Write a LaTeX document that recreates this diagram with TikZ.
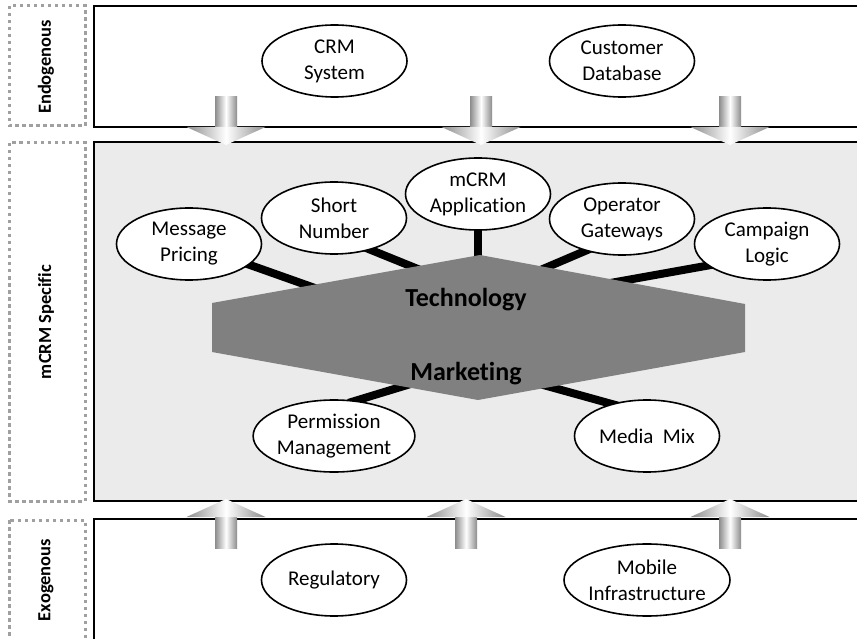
\documentclass[tikz,border=0pt]{standalone}
\usepackage{fontspec}
\setmainfont{Carlito}[Ligatures=NoCommon]
\usetikzlibrary{shapes.geometric,calc}
\definecolor{midfill}{RGB}{235,235,235}
\definecolor{hexfill}{RGB}{128,128,128}
\definecolor{dotgray}{RGB}{160,160,160}
\definecolor{arrgray}{RGB}{140,140,140}
\pgfdeclarelayer{back}
\pgfdeclarelayer{mid}
\pgfsetlayers{back,mid,main}
\tikzset{
  oval/.style={ellipse, draw=black, line width=1.6pt, fill=white, minimum width=145pt, minimum height=72pt, inner sep=0pt, align=center, font=\fontsize{21}{26}\selectfont},
  spoke/.style={line width=8pt, black},
  mainbox/.style={draw=black, line width=2pt},
  sidebox/.style={draw=dotgray, line width=3pt, dash pattern=on 3.5pt off 3.5pt},
  sidelabel/.style={rotate=90, font=\fontsize{18.5}{22}\selectfont\bfseries},
  hexlabel/.style={anchor=base, font=\fontsize{26}{31}\selectfont\bfseries},
  shaftshade/.style={left color=arrgray, right color=arrgray, middle color=white},
  headshade/.style={left color=arrgray, right color=arrgray, middle color=white}
}
\begin{document}
\begin{tikzpicture}[x=1pt,y=-1pt]
\useasboundingbox (0,0) rectangle (857,639);
\clip (0,0) rectangle (857,639);
\begin{pgfonlayer}{back}
% main boxes
\draw[mainbox, fill=white] (94,6) rectangle (880,127);
\draw[mainbox, fill=midfill] (94,142) rectangle (880,501);
\draw[mainbox, fill=white] (94,519) rectangle (880,670);
% side boxes
\draw[sidebox] (9,6) rectangle (85,126);
\draw[sidebox] (9,143) rectangle (85,501);
\draw[sidebox] (9,520) rectangle (85,660);
\end{pgfonlayer}
\node[sidelabel] (endo) at (46,67) {Endogenous};
\node[sidelabel] (spec) at (46,322) {mCRM Specific};
\node[sidelabel] (exo) at (46,580) {Exogenous};
% spoke targets
\coordinate (t1) at (360,304);
\coordinate (t2) at (450,282);
\coordinate (t3) at (478,280);
\coordinate (t4) at (510,283);
\coordinate (t5) at (560,292);
\coordinate (t6) at (450,372);
\coordinate (t7) at (500,373);
% ellipses
\node[oval] (mp) at (189,244) {Message\\Pricing};
\node[oval] (sn) at (334,218) {Short\\Number};
\node[oval] (app) at (478,194) {mCRM\\Application};
\node[oval] (og) at (622,219) {Operator\\Gateways};
\node[oval] (cl) at (767,244) {Campaign\\Logic};
\node[oval] (pm) at (334,436) {Permission\\Management};
\node[oval] (mm) at (647,436) {Media~ Mix};
% spokes (behind ellipses)
\begin{pgfonlayer}{mid}
\draw[spoke] ($(mp.-19.4)!-8pt!(t1)$) -- (t1);
\draw[spoke] ($(sn.-41.6)!-8pt!(t2)$) -- (t2);
\draw[spoke] (app.center) -- (t3);
\draw[spoke] ($(og.221.5)!-8pt!(t4)$) -- (t4);
\draw[spoke] ($(cl.200.2)!-8pt!(t5)$) -- (t5);
\draw[spoke] ($(pm.58.3)!-8pt!(t6)$) -- (t6);
\draw[spoke] ($(mm.138.3)!-8pt!(t7)$) -- (t7);
\end{pgfonlayer}
% hexagon
\fill[hexfill] (212,303) -- (480,255) -- (745,304) -- (745,352) -- (478,400) -- (212,352) -- cycle;
\node[hexlabel] (tech) at (466,306) {Technology};
\node[hexlabel] (mkt) at (466,380) {Marketing};
% endogenous / exogenous ellipses
\node[oval] (crm) at (334.5,61) {CRM\\System};
\node[oval] (cdb) at (622,61) {Customer\\Database};
\node[oval] (reg) at (334,580) {Regulatory};
\node[oval] (mob) at (647,580) {Mobile\\Infrastructure};
% down arrows
\foreach \cx/\nm in {226/da1, 481/da2, 730/da3}{
  \shade[shaftshade] (\cx-11,97) rectangle (\cx+11,127.5);
  \shade[headshade] (\cx-39.5,127) -- (\cx+39.5,127) -- (\cx,145) -- cycle;
  \coordinate (\nm) at (\cx,145);
}
% up arrows
\foreach \cx/\nm in {226/ua1, 466/ua2, 730/ua3}{
  \shade[shaftshade] (\cx-11,516.5) rectangle (\cx+11,548);
  \shade[headshade] (\cx-39.5,517) -- (\cx+39.5,517) -- (\cx,499) -- cycle;
  \coordinate (\nm) at (\cx,499);
}
\end{tikzpicture}
\end{document}
